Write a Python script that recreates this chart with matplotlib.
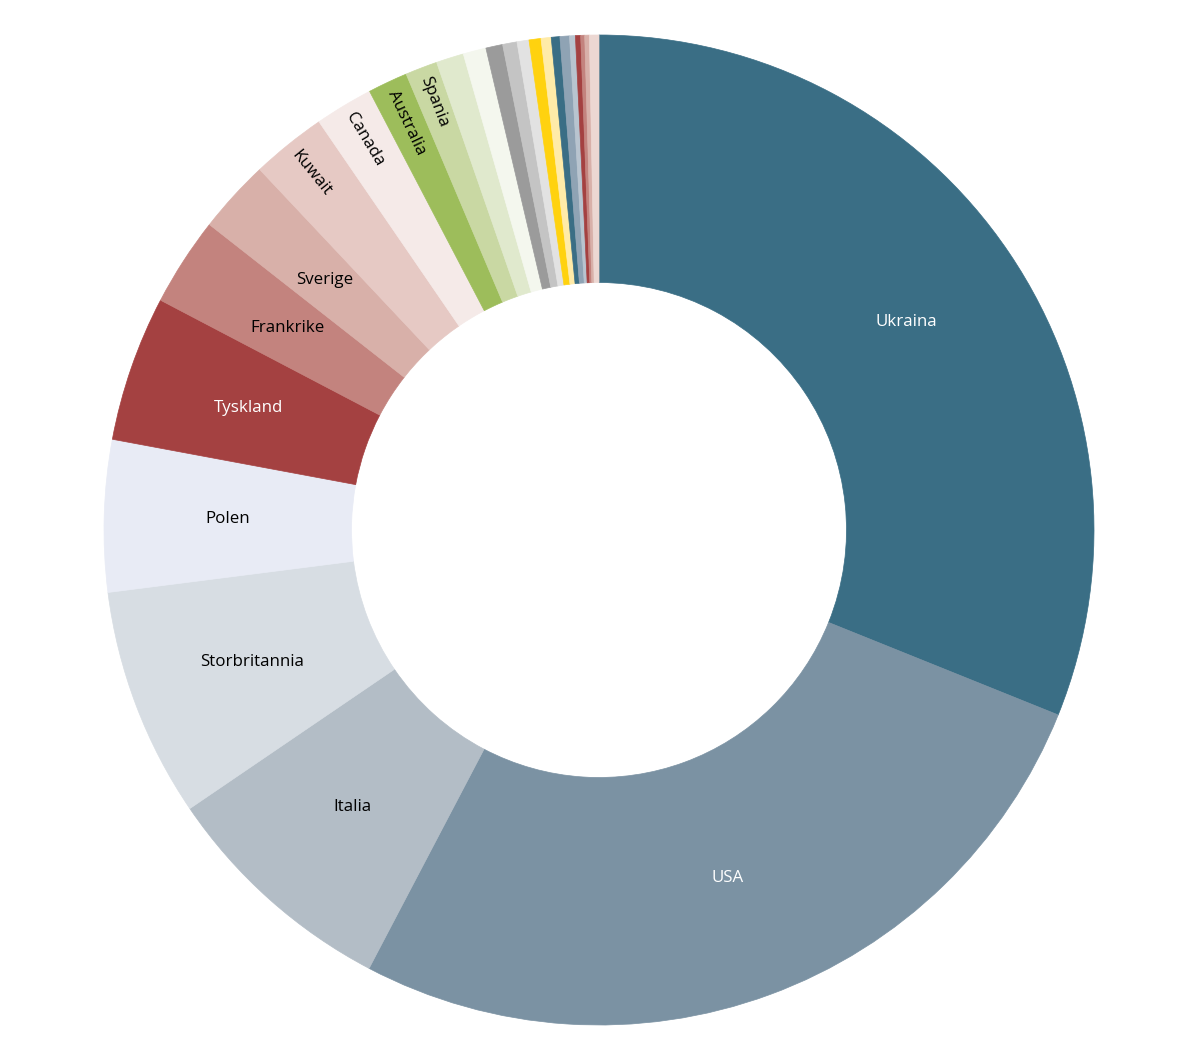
import matplotlib
matplotlib.use("Agg")
import matplotlib.pyplot as plt
import numpy as np

categories = ["Ukraina", "USA", "Italia", "Storbritannia", "Polen", "Tyskland",
              "Frankrike", "Sverige", "Kuwait", "Canada", "Australia", "Spania",
              "Andre 1", "Andre 2", "Andre 3", "Andre 4", "Andre 5", "Andre 6",
              "Andre 7", "Andre 8", "Andre 9", "Andre 10", "Andre 11", "Andre 12",
              "Andre 13", "Andre 14"]
values = [31.1, 26.6, 7.8, 7.5, 4.95, 4.75, 2.9, 2.4, 2.45, 1.9, 1.3, 1.05,
          0.9, 0.75, 0.55, 0.47, 0.39, 0.39, 0.33, 0.28, 0.31, 0.19, 0.17,
          0.13, 0.15, 0.31]
shown_labels = ["Ukraina", "USA", "Italia", "Storbritannia", "Polen", "Tyskland",
                "Frankrike", "Sverige", "Kuwait", "Canada", "Australia", "Spania"]
rotated_labels = ["Kuwait", "Canada", "Australia", "Spania"]
white_labels = ["Ukraina", "USA", "Tyskland"]
colors = ["#3a6e85", "#7b92a3", "#b3bdc6", "#d7dde3", "#e8ebf5", "#a44141",
          "#c3837e", "#d8b0a9", "#e6c9c4", "#f5eae8", "#9dbd5b", "#c9d8a3",
          "#e0e9cd", "#f4f7ee", "#9b9b9b", "#c4c4c4", "#e2e2e2", "#ffd20f",
          "#ffeba8", "#3a6e85", "#8fa3b4", "#b8c4cf", "#a44141", "#c3837e",
          "#d8b0a9", "#ecd7d2"]

plt.rcParams['font.family'] = ['Open Sans', 'DejaVu Sans']

W, H = 1198, 1060
fig = plt.figure(figsize=(W / 100, H / 100), dpi=100)
R = 495
ax = fig.add_axes([(599 - R) / W, (530 - R) / H, 2 * R / W, 2 * R / H])

wedges, _ = ax.pie(values, colors=colors, startangle=90, counterclock=False,
                   radius=1.0, wedgeprops=dict(width=0.5, linewidth=0))
for w, c in zip(wedges, colors):
    w.set_edgecolor(c)
    w.set_linewidth(0.5)
ax.set_xlim(-1, 1)
ax.set_ylim(-1, 1)
ax.set_aspect('equal')
ax.axis('off')

FS = 12.2
for w, name in zip(wedges, categories):
    if name not in shown_labels:
        continue
    ang = np.deg2rad((w.theta1 + w.theta2) / 2)
    col = 'white' if name in white_labels else 'black'
    if name in rotated_labels:
        r = 0.98
        rot = np.rad2deg(ang) - 180
        ax.text(r * np.cos(ang), r * np.sin(ang), name, rotation=rot,
                rotation_mode='anchor', ha='left', va='center',
                fontsize=FS, color=col)
    else:
        r = 0.75
        ax.text(r * np.cos(ang), r * np.sin(ang), name, ha='center',
                va='center', fontsize=FS, color=col)

fig.savefig("out.png", dpi=100, facecolor='white')
